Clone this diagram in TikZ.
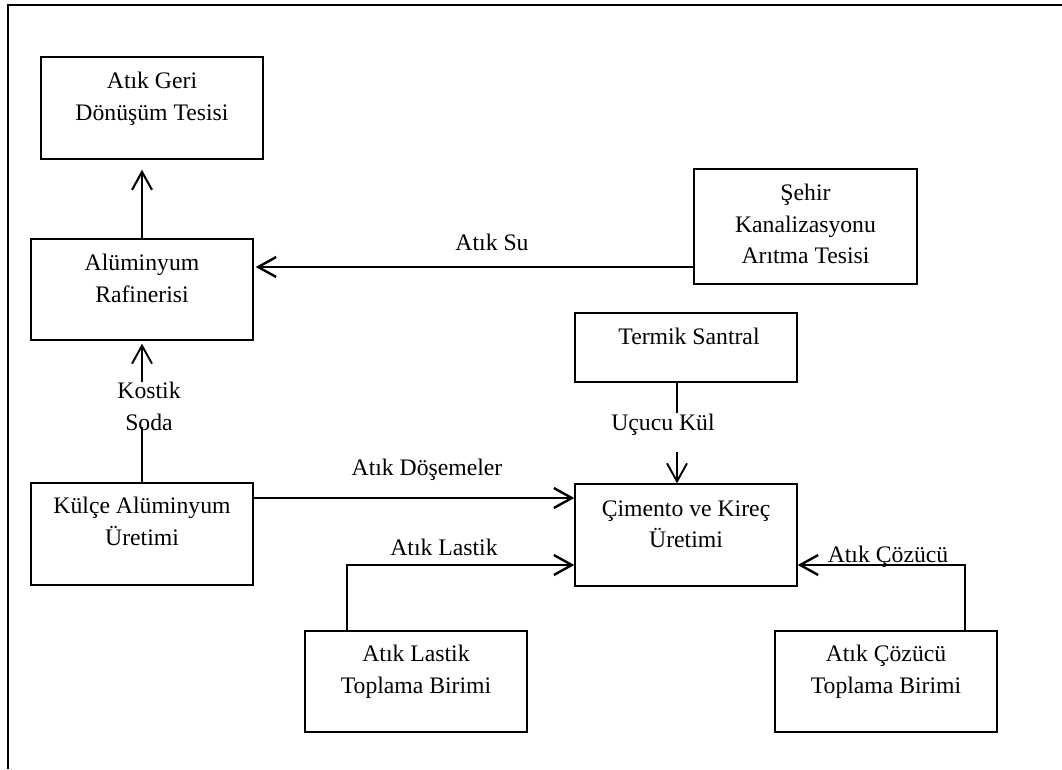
\documentclass[tikz,border=0pt]{standalone}
\usepackage{fontspec}
\setmainfont{Liberation Serif}
\usetikzlibrary{arrows.meta}
\tikzset{
  box/.style={draw, line width=1.4pt, minimum width=222pt, inner sep=0pt},
  txt/.style={font=\fontsize{23.7}{31.5}\selectfont, align=center, inner sep=0pt, anchor=north},
  lbl/.style={font=\fontsize{23.7}{31.5}\selectfont, inner sep=0pt, anchor=base},
  conn/.style={line width=2.4pt, -{Straight Barb[length=18pt,width=20pt]}},
  thinconn/.style={line width=1.9pt, -{Straight Barb[length=18pt,width=20pt]}},
  thinplain/.style={line width=1.8pt},
}
\begin{document}
\begin{tikzpicture}[x=1pt,y=-1pt]
\useasboundingbox (0,0) rectangle (1062,769);
% frame
\draw[line width=2pt] (8,769) -- (8,4.5) -- (1062,4.5);
% boxes
\node[box, minimum height=102pt] (geri) at (152,108) {};
\node[box, minimum height=101pt] (raf) at (142,289.5) {};
\node[box, minimum height=102pt] (kulce) at (142,534) {};
\node[box, minimum width=223pt, minimum height=115pt] (sehir) at (805.5,226.5) {};
\node[box, minimum height=69pt] (termik) at (686,347.5) {};
\node[box, minimum height=102pt] (cimento) at (686,535) {};
\node[box, minimum height=101pt] (lastik) at (416,681.5) {};
\node[box, minimum height=101pt] (cozucu) at (886,681.5) {};
% box texts
\node[txt] (geri-t) at ([yshift=-10pt]geri.north) {\strut Atık Geri\\\strut Dönüşüm Tesisi};
\node[txt] (raf-t) at ([yshift=-10pt]raf.north) {\strut Alüminyum\\\strut Rafinerisi};
\node[txt] (kulce-t) at ([yshift=-9pt]kulce.north) {\strut Külçe Alüminyum\\\strut Üretimi};
\node[txt] (sehir-t) at ([yshift=-10pt]sehir.north) {\strut Şehir\\\strut Kanalizasyonu\\\strut Arıtma Tesisi};
\node[txt] (termik-t) at ([xshift=3pt,yshift=-10pt]termik.north) {\strut Termik Santral};
\node[txt] (cimento-t) at ([yshift=-10.5pt]cimento.north) {\strut Çimento ve Kireç\\\strut Üretimi};
\node[txt] (lastik-t) at ([yshift=-9pt]lastik.north) {\strut Atık Lastik\\\strut Toplama Birimi};
\node[txt] (cozucu-t) at ([yshift=-9pt]cozucu.north) {\strut Atık Çözücü\\\strut Toplama Birimi};
% labels
\node[lbl] (l-su) at (492,250) {Atık Su};
\node[lbl] (l-kostik) at (149,398) {Kostik};
\node[lbl] (l-soda) at (149,430) {Soda};
\node[lbl] (l-dos) at (427,475) {Atık Döşemeler};
\node[lbl] (l-las) at (444,555) {Atık Lastik};
\node[lbl] (l-kul) at (663,430) {Uçucu Kül};
\node[lbl] (l-coz) at (888,562) {Atık Çözücü};
% helper coordinates
\coordinate (ysu) at (0,267);
\coordinate (ks-bot) at (142,427);
\coordinate (ks-top) at (142,382);
\coordinate (ydos) at (0,498);
\coordinate (la) at (347,565);
\coordinate (cz) at (965,565);
\coordinate (uk-top) at (677,413);
\coordinate (uk-bot) at (677,452);
% connectors
\draw[conn, line width=2.1pt, shorten >=10pt] (raf.north) -- (raf.north |- geri.south);
\draw[conn, shorten >=2pt] (sehir.west |- ysu) -- (raf.east |- ysu);
\draw[thinplain] (kulce.north) -- (ks-bot);
\draw[thinconn, shorten >=3pt] (ks-top) -- (raf.south);
\draw[conn] (kulce.east |- ydos) -- (cimento.west |- ydos);
\draw[conn] (la |- lastik.north) -- (la) -- (cimento.west |- la);
\draw[conn] (cz |- cozucu.north) -- (cz) -- (cimento.east |- cz);
\draw[thinplain] (termik.south -| uk-top) -- (uk-top);
\draw[thinconn] (uk-bot) -- (uk-bot |- cimento.north);
\end{tikzpicture}
\end{document}
